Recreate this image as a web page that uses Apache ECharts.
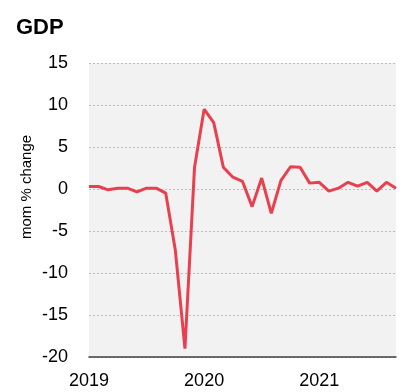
<!DOCTYPE html>
<html><head><meta charset="utf-8">
<script src="https://cdn.jsdelivr.net/npm/echarts@6/dist/echarts.min.js"></script>
<style>html,body{margin:0;padding:0;background:#fff}#c{width:406px;height:392px}</style>
</head><body><div id="c"></div>
<script>
var months = ['2019-01','2019-02','2019-03','2019-04','2019-05','2019-06','2019-07','2019-08','2019-09','2019-10','2019-11','2019-12',
'2020-01','2020-02','2020-03','2020-04','2020-05','2020-06','2020-07','2020-08','2020-09','2020-10','2020-11','2020-12',
'2021-01','2021-02','2021-03','2021-04','2021-05','2021-06','2021-07','2021-08','2021-09'];
var gdp = [0.3,0.3,-0.1,0.1,0.1,-0.35,0.1,0.1,-0.5,-7.3,-19.0,2.6,
9.5,7.9,2.6,1.4,0.9,-2.1,1.3,-2.9,1.0,2.65,2.6,0.7,
0.8,-0.25,0.1,0.8,0.35,0.8,-0.25,0.8,0.1];
var yearTicks = ['2019','2020','2021'];
var yMin = -20, yMax = 15, yStep = 5;

var chart = echarts.init(document.getElementById('c'));
var fam = '"Liberation Sans", Arial, sans-serif';
chart.setOption({
  animation: false,
  title: { text: 'GDP', left: 11, top: 12, textStyle: { fontFamily: fam, fontSize: 22, fontWeight: 'bold', color: '#000' } },
  graphic: [{
    type: 'text', x: 27, y: 187, rotation: Math.PI / 2,
    style: { text: 'mom % change', font: '15px "Liberation Sans", Arial, sans-serif', fill: '#000', align: 'center', verticalAlign: 'middle' }
  }],
  grid: { left: 89, right: 10, top: 63, bottom: 35, show: true, backgroundColor: '#f2f2f2', borderWidth: 0 },
  xAxis: {
    type: 'category', data: months, boundaryGap: false,
    axisLine: { show: true, onZero: false, lineStyle: { color: '#404040', width: 1.5 } },
    axisTick: { show: false },
    splitLine: { show: false },
    axisLabel: {
      interval: function (i, v) { return yearTicks.indexOf(v.slice(0,4)) >= 0 && v.slice(5) === '01'; },
      formatter: function (v) { return v.slice(0,4); },
      fontFamily: fam, fontSize: 18, color: '#000', margin: 15
    }
  },
  yAxis: {
    type: 'value', min: yMin, max: yMax, interval: yStep,
    axisLine: { show: false }, axisTick: { show: false },
    axisLabel: { fontFamily: fam, fontSize: 18, color: '#000', margin: 21 },
    splitLine: { show: true, lineStyle: { color: '#bdbdbd', type: [2, 2], width: 1 } }
  },
  series: [{
    type: 'line', data: gdp, showSymbol: false, symbol: 'none',
    lineStyle: { color: '#e8404f', width: 3 }, z: 3
  }]
});
</script></body></html>
